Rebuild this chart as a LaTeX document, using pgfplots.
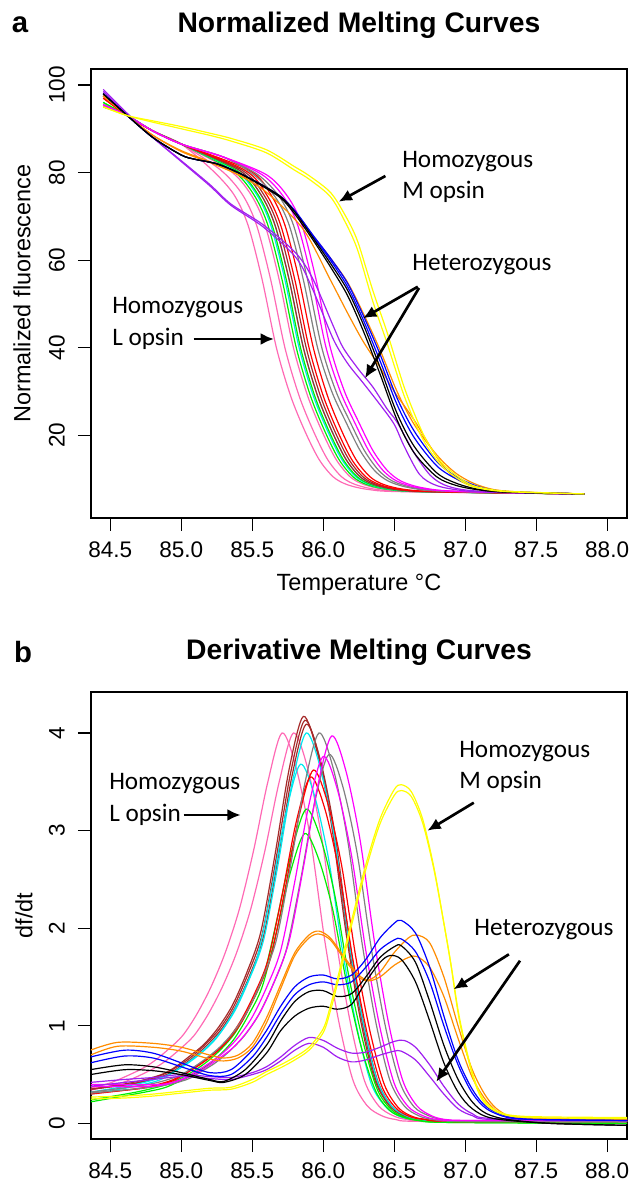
\documentclass[border=0pt]{standalone}
\usepackage{pgfplots}
\pgfplotsset{compat=1.18}
\usepackage{fontspec}
\setmainfont{Liberation Sans}
\newfontfamily\annfont{Carlito}
\usetikzlibrary{arrows.meta}

\definecolor{rpink}{HTML}{FF69B4}
\definecolor{rbrown}{HTML}{A52A2A}
\definecolor{rcyan}{HTML}{00E8F0}
\definecolor{rgreen}{HTML}{00EE00}
\definecolor{rred}{HTML}{FF0000}
\definecolor{rgray}{HTML}{808080}
\definecolor{rmagenta}{HTML}{FF00FF}
\definecolor{rpurple}{HTML}{A020F0}
\definecolor{rorange}{HTML}{FF8C00}
\definecolor{rblue}{HTML}{0000FF}
\definecolor{ryellow}{HTML}{FFFF00}

\pgfplotsset{
  meltaxis/.style={
    scale only axis, width=402pt,
    xmin=84.364, xmax=88.14,
    xtick={84.5,85,85.5,86,86.5,87,87.5,88},
    tick align=outside, xtick pos=left, ytick pos=left,
    major tick length=9.75pt,
    every tick/.style={black, line width=0.9pt},
    axis line style={line width=1pt},
    ticklabel style={font=\fontsize{16.9}{18}\selectfont, inner sep=0pt},
    /pgf/number format/assume math mode=true,
    xticklabel style={anchor=north, /pgf/number format/.cd, fixed, fixed zerofill, precision=1},
    yticklabel style={rotate=90, anchor=south},
    xticklabel shift=8pt, yticklabel shift=9.75pt,
    every axis plot/.append style={smooth, line width=0.9pt, mark=none},
  },
}
\tikzset{arr/.style={line width=2pt, -{Latex[length=10pt,width=9pt]}}}

\begin{document}
\begin{tikzpicture}
\useasboundingbox (0pt,0pt) rectangle (474.75pt,889.5pt);

% ---------------- panel a: normalized melting curves ----------------
\begin{axis}[meltaxis, at={(68.25pt,501pt)}, anchor=south west, height=336.75pt,
  ymin=1.1, ymax=103.65, ytick={20,40,60,80,100}]
% homozygous L opsin
\addplot[rpink] coordinates {(84.45,95.5)(84.62,93)(84.8,89.5)(85.0,86.5)(85.22,80.5)(85.37,75)(85.47,68)(85.57,55.5)(85.67,40)(85.77,29)(85.87,21)(85.97,14.5)(86.07,10.5)(86.17,8.7)(86.32,7.6)(86.57,7.1)(87.84,6.6)};
\addplot[rpink] coordinates {(84.45,95.5)(84.62,93)(84.8,89.5)(85.0,86.5)(85.28,80.5)(85.43,75)(85.53,68)(85.63,55.5)(85.73,40)(85.83,29)(85.93,21)(86.03,14.5)(86.13,10.5)(86.23,8.7)(86.38,7.6)(86.63,7.1)(87.84,6.6)};
\addplot[rpink] coordinates {(84.45,95.3)(84.62,93)(84.8,89.5)(85.0,86.5)(85.34,80.5)(85.49,75)(85.59,68)(85.69,55.5)(85.79,40)(85.89,29)(85.99,21)(86.09,14.5)(86.19,10.5)(86.29,8.7)(86.44,7.6)(86.69,7.1)(87.84,6.6)};
\addplot[rgreen] coordinates {(84.45,96)(84.62,93)(84.8,89.5)(85.0,86.5)(85.36,80.5)(85.51,75)(85.61,68)(85.71,55.5)(85.81,40)(85.91,29)(86.01,21)(86.11,14.5)(86.21,10.5)(86.31,8.7)(86.46,7.6)(86.71,7.1)(87.84,6.6)};
\addplot[rcyan] coordinates {(84.45,95)(84.62,93)(84.8,89.5)(85.0,86.5)(85.38,80.5)(85.53,75)(85.63,68)(85.73,55.5)(85.83,40)(85.93,29)(86.03,21)(86.13,14.5)(86.23,10.5)(86.33,8.7)(86.48,7.6)(86.73,7.1)(87.84,6.6)};
\addplot[rgreen] coordinates {(84.45,96)(84.62,93)(84.8,89.5)(85.0,86.5)(85.39,80.5)(85.54,75)(85.64,68)(85.74,55.5)(85.84,40)(85.94,29)(86.04,21)(86.14,14.5)(86.24,10.5)(86.34,8.7)(86.49,7.6)(86.74,7.1)(87.84,6.6)};
\addplot[rcyan] coordinates {(84.45,95)(84.62,93)(84.8,89.5)(85.0,86.5)(85.41,80.5)(85.56,75)(85.66,68)(85.76,55.5)(85.86,40)(85.96,29)(86.06,21)(86.16,14.5)(86.26,10.5)(86.36,8.7)(86.51,7.6)(86.76,7.1)(87.84,6.6)};
\addplot[rbrown] coordinates {(84.45,97.5)(84.62,93)(84.8,89.5)(85.0,86.5)(85.41,80.5)(85.56,75)(85.66,68)(85.76,55.5)(85.86,40)(85.96,29)(86.06,21)(86.16,14.5)(86.26,10.5)(86.36,8.7)(86.51,7.6)(86.76,7.1)(87.84,6.6)};
\addplot[rbrown] coordinates {(84.45,97.5)(84.62,93)(84.8,89.5)(85.0,86.5)(85.43,80.5)(85.58,75)(85.68,68)(85.78,55.5)(85.88,40)(85.98,29)(86.08,21)(86.18,14.5)(86.28,10.5)(86.38,8.7)(86.53,7.6)(86.78,7.1)(87.84,6.6)};
\addplot[rred] coordinates {(84.45,97)(84.62,93)(84.8,89.5)(85.0,86.5)(85.45,80.5)(85.60,75)(85.70,68)(85.80,55.5)(85.90,40)(86.00,29)(86.10,21)(86.20,14.5)(86.30,10.5)(86.40,8.7)(86.55,7.6)(86.80,7.1)(87.84,6.6)};
\addplot[rred] coordinates {(84.45,97)(84.62,93)(84.8,89.5)(85.0,86.5)(85.48,80.5)(85.63,75)(85.73,68)(85.83,55.5)(85.93,40)(86.03,29)(86.13,21)(86.23,14.5)(86.33,10.5)(86.43,8.7)(86.58,7.6)(86.83,7.1)(87.84,6.6)};
\addplot[rgray] coordinates {(84.45,95)(84.62,93)(84.8,89.5)(85.0,86.5)(85.3,83.5)(85.51,79.5)(85.66,74.5)(85.76,68)(85.86,55.5)(85.96,40)(86.06,30)(86.16,23)(86.26,16.5)(86.36,12)(86.46,9.5)(86.61,8)(86.86,7.2)(87.84,6.6)};
\addplot[rgray] coordinates {(84.45,95)(84.62,93)(84.8,89.5)(85.0,86.5)(85.3,83.5)(85.54,79.5)(85.69,74.5)(85.79,68)(85.89,55.5)(85.99,40)(86.09,30)(86.19,23)(86.29,16.5)(86.39,12)(86.49,9.5)(86.64,8)(86.89,7.2)(87.84,6.6)};
\addplot[rmagenta] coordinates {(84.45,95.5)(84.62,93)(84.8,89.5)(85.0,86.5)(85.3,83.5)(85.57,79.5)(85.72,74.5)(85.82,68)(85.92,55.5)(86.02,40)(86.12,30)(86.22,23)(86.32,16.5)(86.42,12)(86.52,9.5)(86.67,8)(86.92,7.2)(87.84,6.6)};
\addplot[rmagenta] coordinates {(84.45,95.5)(84.62,93)(84.8,89.5)(85.0,86.5)(85.3,83.5)(85.60,79.5)(85.75,74.5)(85.85,68)(85.95,55.5)(86.05,40)(86.15,30)(86.25,23)(86.35,16.5)(86.45,12)(86.55,9.5)(86.70,8)(86.95,7.2)(87.84,6.6)};
% heterozygous
\addplot[rpurple] coordinates {(84.45,99)(84.62,93.5)(84.8,88)(85.0,82.5)(85.2,77)(85.35,72.5)(85.58,67.5)(85.81,60.5)(85.93,53)(86.07,42)(86.17,36.5)(86.28,32)(86.4,27)(86.5,22.5)(86.57,17.5)(86.68,11)(86.8,8.5)(87.0,7.3)(87.3,6.9)(87.84,6.6)};
\addplot[rpurple] coordinates {(84.45,98.5)(84.62,93.3)(84.8,88)(85.0,82.7)(85.2,77.3)(85.35,72.8)(85.58,68)(85.81,61.5)(85.93,55.5)(86.07,45)(86.14,40)(86.25,35)(86.35,31)(86.45,26)(86.52,23)(86.64,16)(86.75,11)(86.85,8.7)(87.0,7.5)(87.3,6.9)(87.84,6.6)};
\addplot[rorange] coordinates {(84.45,97.5)(84.62,93)(84.8,88.5)(85.0,85)(85.2,82.5)(85.4,79.5)(85.6,75.5)(85.86,67)(86.05,55.5)(86.17,48)(86.28,41.5)(86.4,35.5)(86.5,30)(86.64,23.5)(86.8,15)(86.9,11)(87.0,9)(87.15,7.6)(87.4,7.0)(87.84,6.6)};
\addplot[rorange] coordinates {(84.45,97.5)(84.62,93)(84.8,88.5)(85.0,84.8)(85.2,82.3)(85.4,79.6)(85.55,77.5)(85.7,74.5)(85.8,71.2)(85.93,65.5)(86.05,60.5)(86.17,55)(86.28,48)(86.4,39.5)(86.52,30)(86.64,22.5)(86.8,15.5)(86.94,11.2)(87.1,8.5)(87.3,7.2)(87.84,6.6)};
\addplot[rblue] coordinates {(84.45,98)(84.62,93)(84.8,88)(85.0,84)(85.1,83)(85.25,82)(85.4,80)(85.55,77.5)(85.7,74.5)(85.8,71.2)(85.93,65.3)(86.05,60)(86.17,54)(86.28,46.5)(86.4,37)(86.52,27)(86.64,19.5)(86.8,13)(86.94,10)(87.1,8)(87.3,7.1)(87.84,6.6)};
\addplot[rblue] coordinates {(84.45,98)(84.62,93)(84.8,88)(85.0,84)(85.1,83)(85.25,82)(85.4,80)(85.55,77.5)(85.7,74.5)(85.8,71.3)(85.93,65.6)(86.05,60.5)(86.17,54.8)(86.28,47.5)(86.4,38.5)(86.52,28.5)(86.64,21)(86.8,14)(86.94,10.5)(87.1,8.2)(87.3,7.1)(87.84,6.6)};
\addplot[black] coordinates {(84.45,98)(84.62,93)(84.8,88)(85.0,84)(85.1,83)(85.25,82)(85.4,80)(85.55,77.5)(85.7,74.5)(85.8,71)(85.93,65)(86.05,59.3)(86.17,53.2)(86.28,45.5)(86.4,35.5)(86.52,25)(86.64,17.5)(86.8,11.4)(86.94,9)(87.1,7.6)(87.3,7.0)(87.84,6.6)};
\addplot[black] coordinates {(84.45,98)(84.62,93)(84.8,88)(85.0,84)(85.1,83)(85.25,82)(85.4,80)(85.55,77.3)(85.7,74.2)(85.8,70.5)(85.93,64.5)(86.05,58.5)(86.17,52)(86.28,44)(86.4,34)(86.52,23.5)(86.64,16)(86.8,10.5)(86.94,8.5)(87.1,7.5)(87.3,7.0)(87.84,6.6)};
% homozygous M opsin
\addplot[ryellow] coordinates {(84.45,95)(84.62,93)(84.8,91.5)(85.0,90)(85.2,88.5)(85.35,87.2)(85.6,84.5)(85.8,80.5)(85.9,78.5)(86.05,74.5)(86.15,69)(86.24,62.5)(86.35,50.5)(86.45,41)(86.57,29)(86.68,20.5)(86.75,16.5)(86.85,12.5)(87.0,9)(87.1,7.9)(87.3,7.1)(87.84,6.6)};
\addplot[ryellow] coordinates {(84.45,95)(84.62,93)(84.8,91.8)(85.0,90.5)(85.2,89)(85.35,87.8)(85.6,85.2)(85.8,81.3)(85.9,79.3)(86.05,75.5)(86.15,70.5)(86.24,64.5)(86.35,53)(86.45,43.5)(86.57,31)(86.68,22)(86.75,17.5)(86.85,13.2)(87.0,9.4)(87.1,8.1)(87.3,7.2)(87.84,6.6)};
\end{axis}

% ---------------- panel b: derivative melting curves ----------------
\begin{axis}[meltaxis, at={(68.25pt,35.25pt)}, anchor=south west, height=335.25pt,
  ymin=-0.16, ymax=4.42, ytick={0,1,2,3,4}]
% homozygous L opsin
\addplot[rpink] coordinates {(84.36,0.36)(84.51,0.42)(84.71,0.55)(84.81,0.64)(84.91,0.76)(85.01,0.9)(85.11,1.12)(85.21,1.4)(85.31,1.75)(85.41,2.2)(85.51,2.8)(85.61,3.5)(85.71,4.0)(85.81,3.64)(85.91,2.92)(86.01,1.88)(86.11,1.04)(86.21,0.44)(86.31,0.18)(86.41,0.08)(86.51,0.04)(86.71,0.02)(88.14,0.02)};
\addplot[rpink] coordinates {(84.36,0.34)(84.59,0.42)(84.79,0.55)(84.89,0.64)(84.99,0.76)(85.09,0.9)(85.19,1.12)(85.29,1.4)(85.39,1.75)(85.49,2.2)(85.59,2.8)(85.69,3.5)(85.79,4.0)(85.89,3.64)(85.99,2.92)(86.09,1.88)(86.19,1.04)(86.29,0.44)(86.39,0.18)(86.49,0.08)(86.59,0.04)(86.79,0.02)(88.14,0.02)};
\addplot[rbrown] coordinates {(84.36,0.35)(84.66,0.42)(84.86,0.50)(84.96,0.58)(85.06,0.69)(85.16,0.81)(85.26,0.98)(85.36,1.21)(85.46,1.54)(85.56,1.96)(85.66,2.75)(85.76,3.63)(85.86,4.17)(85.96,3.79)(86.06,3.04)(86.16,1.96)(86.26,1.08)(86.36,0.46)(86.46,0.19)(86.56,0.08)(86.66,0.04)(86.86,0.02)(88.14,0.02)};
\addplot[rbrown] coordinates {(84.36,0.35)(84.67,0.41)(84.87,0.50)(84.97,0.58)(85.07,0.68)(85.17,0.81)(85.27,0.97)(85.37,1.20)(85.47,1.53)(85.57,1.94)(85.67,2.73)(85.77,3.59)(85.87,4.13)(85.97,3.76)(86.07,3.01)(86.17,1.94)(86.27,1.07)(86.37,0.45)(86.47,0.19)(86.57,0.08)(86.67,0.04)(86.87,0.02)(88.14,0.02)};
\addplot[rbrown] coordinates {(84.36,0.35)(84.68,0.41)(84.88,0.49)(84.98,0.57)(85.08,0.67)(85.18,0.80)(85.28,0.96)(85.38,1.19)(85.48,1.51)(85.58,1.92)(85.68,2.70)(85.78,3.56)(85.88,4.09)(85.98,3.72)(86.08,2.99)(86.18,1.92)(86.28,1.06)(86.38,0.45)(86.48,0.18)(86.58,0.08)(86.68,0.04)(86.88,0.02)(88.14,0.02)};
\addplot[rcyan] coordinates {(84.36,0.32)(84.68,0.40)(84.88,0.48)(84.98,0.56)(85.08,0.66)(85.18,0.78)(85.28,0.94)(85.38,1.16)(85.48,1.48)(85.58,1.88)(85.68,2.64)(85.78,3.48)(85.88,4.00)(85.98,3.64)(86.08,2.92)(86.18,1.88)(86.28,1.04)(86.38,0.44)(86.48,0.18)(86.58,0.08)(86.68,0.04)(86.88,0.02)(88.14,0.02)};
\addplot[rcyan] coordinates {(84.36,0.30)(84.64,0.37)(84.84,0.44)(84.94,0.52)(85.04,0.61)(85.14,0.72)(85.24,0.86)(85.34,1.07)(85.44,1.36)(85.54,1.73)(85.64,2.43)(85.74,3.20)(85.84,3.68)(85.94,3.35)(86.04,2.69)(86.14,1.73)(86.24,0.96)(86.34,0.40)(86.44,0.17)(86.54,0.07)(86.64,0.04)(86.84,0.02)(88.14,0.02)};
\addplot[rgreen] coordinates {(84.36,0.24)(84.68,0.32)(84.88,0.39)(84.98,0.45)(85.08,0.53)(85.18,0.63)(85.28,0.76)(85.38,0.93)(85.48,1.19)(85.58,1.51)(85.68,2.13)(85.78,2.80)(85.88,3.22)(85.98,2.93)(86.08,2.35)(86.18,1.51)(86.28,0.84)(86.38,0.35)(86.48,0.14)(86.58,0.06)(86.68,0.03)(86.88,0.01)(88.14,0.0)};
\addplot[rgreen] coordinates {(84.36,0.22)(84.67,0.30)(84.87,0.36)(84.97,0.42)(85.07,0.49)(85.17,0.58)(85.27,0.70)(85.37,0.86)(85.47,1.10)(85.57,1.40)(85.67,1.96)(85.77,2.58)(85.87,2.97)(85.97,2.70)(86.07,2.17)(86.17,1.40)(86.27,0.77)(86.37,0.33)(86.47,0.13)(86.57,0.06)(86.67,0.03)(86.87,0.01)(88.14,0.0)};
\addplot[rred] coordinates {(84.36,0.31)(84.73,0.36)(84.93,0.43)(85.03,0.51)(85.13,0.60)(85.23,0.71)(85.33,0.85)(85.43,1.05)(85.53,1.34)(85.63,1.70)(85.73,2.39)(85.83,3.15)(85.93,3.62)(86.03,3.29)(86.13,2.64)(86.23,1.70)(86.33,0.94)(86.43,0.40)(86.53,0.16)(86.63,0.07)(86.73,0.04)(86.93,0.02)(88.14,0.02)};
\addplot[rred] coordinates {(84.36,0.30)(84.71,0.36)(84.91,0.43)(85.01,0.50)(85.11,0.59)(85.21,0.69)(85.31,0.83)(85.41,1.03)(85.51,1.31)(85.61,1.67)(85.71,2.34)(85.81,3.09)(85.91,3.55)(86.01,3.23)(86.11,2.59)(86.21,1.67)(86.31,0.92)(86.41,0.39)(86.51,0.16)(86.61,0.07)(86.71,0.04)(86.91,0.02)(88.14,0.02)};
\addplot[rgray] coordinates {(84.36,0.32)(84.77,0.40)(84.97,0.48)(85.07,0.56)(85.17,0.66)(85.27,0.78)(85.37,0.94)(85.47,1.16)(85.57,1.48)(85.67,1.88)(85.77,2.64)(85.87,3.48)(85.97,4.00)(86.07,3.64)(86.17,2.92)(86.27,1.88)(86.37,1.04)(86.47,0.44)(86.57,0.18)(86.67,0.08)(86.77,0.04)(86.97,0.02)(88.14,0.02)};
\addplot[rgray] coordinates {(84.36,0.31)(84.84,0.38)(85.04,0.45)(85.14,0.53)(85.24,0.62)(85.34,0.74)(85.44,0.89)(85.54,1.10)(85.64,1.40)(85.74,1.78)(85.84,2.49)(85.94,3.29)(86.04,3.78)(86.14,3.44)(86.24,2.76)(86.34,1.78)(86.44,0.98)(86.54,0.42)(86.64,0.17)(86.74,0.08)(86.84,0.04)(87.04,0.02)(88.14,0.02)};
\addplot[rmagenta] coordinates {(84.36,0.40)(84.86,0.40)(85.06,0.48)(85.16,0.56)(85.26,0.66)(85.36,0.77)(85.46,0.93)(85.56,1.15)(85.66,1.47)(85.76,1.87)(85.86,2.62)(85.96,3.45)(86.06,3.97)(86.16,3.61)(86.26,2.90)(86.36,1.87)(86.46,1.03)(86.56,0.44)(86.66,0.18)(86.76,0.08)(86.86,0.04)(87.06,0.03)(88.14,0.03)};
\addplot[rmagenta] coordinates {(84.36,0.38)(84.80,0.38)(85.00,0.45)(85.10,0.53)(85.20,0.62)(85.30,0.73)(85.40,0.88)(85.50,1.09)(85.60,1.39)(85.70,1.77)(85.80,2.48)(85.90,3.27)(86.00,3.76)(86.10,3.42)(86.20,2.74)(86.30,1.77)(86.40,0.98)(86.50,0.41)(86.60,0.17)(86.70,0.08)(86.80,0.04)(87.00,0.03)(88.14,0.03)};
% heterozygous
\addplot[rpurple] coordinates {(84.36,0.42)(84.6,0.45)(84.8,0.47)(85.0,0.5)(85.2,0.48)(85.35,0.47)(85.5,0.52)(85.6,0.58)(85.7,0.68)(85.8,0.8)(85.9,0.88)(86.0,0.85)(86.1,0.77)(86.2,0.72)(86.3,0.73)(86.4,0.78)(86.5,0.84)(86.57,0.85)(86.65,0.78)(86.75,0.6)(86.85,0.38)(86.95,0.2)(87.05,0.1)(87.2,0.05)(88.14,0.04)};
\addplot[rpurple] coordinates {(84.36,0.38)(84.6,0.42)(84.8,0.45)(85.0,0.48)(85.2,0.46)(85.35,0.45)(85.5,0.5)(85.6,0.55)(85.7,0.64)(85.8,0.75)(85.9,0.82)(86.0,0.78)(86.1,0.68)(86.2,0.63)(86.3,0.65)(86.4,0.7)(86.5,0.74)(86.55,0.74)(86.65,0.65)(86.75,0.48)(86.85,0.3)(86.95,0.15)(87.05,0.08)(87.2,0.04)(88.14,0.04)};
\addplot[rorange] coordinates {(84.36,0.75)(84.55,0.83)(84.8,0.82)(85.0,0.78)(85.2,0.7)(85.3,0.67)(85.4,0.7)(85.5,0.82)(85.6,1.08)(85.7,1.42)(85.8,1.75)(85.9,1.93)(85.97,1.97)(86.05,1.9)(86.15,1.7)(86.25,1.52)(86.32,1.47)(86.4,1.55)(86.5,1.75)(86.6,1.9)(86.66,1.93)(86.75,1.85)(86.85,1.5)(86.95,1.0)(87.05,0.55)(87.15,0.27)(87.25,0.12)(87.4,0.06)(88.14,0.04)};
\addplot[rorange] coordinates {(84.36,0.7)(84.55,0.79)(84.8,0.78)(85.0,0.74)(85.2,0.66)(85.3,0.64)(85.4,0.67)(85.5,0.78)(85.6,1.03)(85.7,1.38)(85.8,1.72)(85.9,1.9)(85.97,1.94)(86.05,1.88)(86.15,1.68)(86.25,1.5)(86.32,1.46)(86.4,1.5)(86.5,1.62)(86.6,1.7)(86.66,1.71)(86.75,1.6)(86.85,1.3)(86.95,0.87)(87.05,0.47)(87.15,0.23)(87.25,0.1)(87.4,0.05)(88.14,0.04)};
\addplot[rblue] coordinates {(84.36,0.68)(84.6,0.75)(84.8,0.72)(85.0,0.62)(85.2,0.52)(85.35,0.55)(85.5,0.75)(85.6,0.95)(85.7,1.2)(85.8,1.4)(85.9,1.5)(86.0,1.52)(86.1,1.48)(86.2,1.52)(86.3,1.68)(86.4,1.9)(86.5,2.05)(86.55,2.08)(86.65,1.95)(86.75,1.6)(86.85,1.1)(86.95,0.65)(87.05,0.35)(87.15,0.17)(87.3,0.07)(87.5,0.04)(88.14,0.03)};
\addplot[rblue] coordinates {(84.36,0.62)(84.6,0.69)(84.8,0.67)(85.0,0.58)(85.2,0.49)(85.35,0.5)(85.5,0.68)(85.6,0.88)(85.7,1.12)(85.8,1.32)(85.9,1.42)(86.0,1.45)(86.1,1.42)(86.2,1.45)(86.3,1.6)(86.4,1.78)(86.5,1.88)(86.55,1.89)(86.65,1.76)(86.75,1.45)(86.85,1.0)(86.95,0.6)(87.05,0.31)(87.15,0.15)(87.3,0.06)(87.5,0.04)(88.14,0.03)};
\addplot[black] coordinates {(84.36,0.55)(84.6,0.6)(84.8,0.58)(85.0,0.52)(85.2,0.45)(85.3,0.43)(85.45,0.55)(85.6,0.8)(85.7,1.05)(85.8,1.25)(85.9,1.35)(86.0,1.36)(86.1,1.3)(86.2,1.33)(86.3,1.5)(86.4,1.7)(86.5,1.81)(86.55,1.82)(86.65,1.65)(86.75,1.25)(86.85,0.8)(86.95,0.45)(87.05,0.22)(87.15,0.1)(87.3,0.04)(87.6,0.0)(88.14,-0.02)};
\addplot[black] coordinates {(84.36,0.5)(84.6,0.55)(84.8,0.54)(85.0,0.5)(85.2,0.44)(85.3,0.42)(85.45,0.5)(85.6,0.72)(85.7,0.95)(85.8,1.1)(85.9,1.18)(86.0,1.2)(86.1,1.17)(86.2,1.22)(86.3,1.45)(86.4,1.65)(86.47,1.72)(86.55,1.68)(86.65,1.45)(86.75,1.05)(86.85,0.62)(86.95,0.32)(87.05,0.15)(87.2,0.05)(87.6,0.0)(88.14,-0.02)};
% homozygous M opsin
\addplot[ryellow] coordinates {(84.36,0.27)(84.6,0.28)(84.8,0.3)(85.0,0.33)(85.2,0.36)(85.35,0.37)(85.5,0.45)(85.6,0.53)(85.7,0.6)(85.8,0.68)(85.9,0.78)(86.0,0.97)(86.05,1.2)(86.1,1.48)(86.15,1.78)(86.2,2.08)(86.3,2.65)(86.4,3.12)(86.5,3.42)(86.55,3.47)(86.62,3.4)(86.7,3.12)(86.78,2.62)(86.85,2.05)(86.9,1.62)(86.96,1.05)(87.05,0.5)(87.13,0.22)(87.25,0.1)(87.45,0.06)(88.14,0.05)};
\addplot[ryellow] coordinates {(84.36,0.25)(84.6,0.26)(84.8,0.28)(85.0,0.31)(85.2,0.34)(85.35,0.35)(85.5,0.42)(85.6,0.5)(85.7,0.57)(85.8,0.65)(85.9,0.75)(86.0,0.93)(86.05,1.15)(86.1,1.43)(86.15,1.73)(86.2,2.03)(86.3,2.6)(86.4,3.07)(86.5,3.36)(86.55,3.41)(86.62,3.35)(86.7,3.08)(86.78,2.6)(86.85,2.05)(86.9,1.63)(86.96,1.08)(87.05,0.52)(87.13,0.24)(87.25,0.11)(87.45,0.07)(88.14,0.06)};
\end{axis}

\begin{scope}[x=0.75pt, y=0.75pt]
% titles, panel letters, axis labels
\node[font=\fontsize{22}{24}\selectfont\bfseries] at (20,1161) {a};
\node[font=\fontsize{21.2}{24}\selectfont\bfseries] at (359,1161) {Normalized Melting Curves};
\node[font=\fontsize{22}{24}\selectfont\bfseries] at (23,534) {b};
\node[font=\fontsize{21.2}{24}\selectfont\bfseries] at (359,534) {Derivative Melting Curves};
\node[font=\fontsize{17.6}{20}\selectfont] at (359,601) {Temperature °C};
\node[font=\fontsize{17.6}{20}\selectfont, rotate=90] at (22,892.5) {Normalized fluorescence};
\node[font=\fontsize{17.6}{20}\selectfont, rotate=90] at (24,270.5) {df/dt};

% annotations
\begin{scope}[every node/.style={font=\annfont\fontsize{18.9}{21}\selectfont, anchor=west, inner sep=0pt}]
\node at (402,1024.3) {Homozygous};
\node at (402,994.3) {M opsin};
\node[anchor=center] at (482,921) {Heterozygous};
\node at (112,878) {Homozygous};
\node at (112,847) {L opsin};
\node at (459,434.3) {Homozygous};
\node at (459,403.7) {M opsin};
\node at (109,402) {Homozygous};
\node at (109,371) {L opsin};
\node[anchor=center] at (544,256.7) {Heterozygous};
\end{scope}
\draw[arr] (385.4,1010) -- (338.7,984.3);
\draw[arr] (417.8,899.3) -- (363,867.7);
\draw[arr] (419,898) -- (365,807.7);
\draw[arr] (193.5,847) -- (274,847);
\draw[arr] (473.8,383.3) -- (427.4,355.3);
\draw[arr] (183.5,371) -- (240.7,371);
\draw[arr] (508.9,231.7) -- (453.6,196.7);
\draw[arr] (520,225.3) -- (436.3,104.3);
\end{scope}
\end{tikzpicture}
\end{document}
